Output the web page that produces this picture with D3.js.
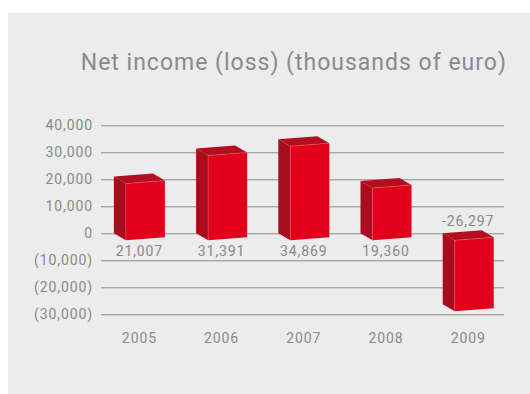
<!DOCTYPE html>
<html>
<head>
<meta charset="utf-8">
<script src="https://cdn.jsdelivr.net/npm/d3@7"></script>
<style>
  body { margin: 0; background: #fff; }
  text { font-family: Roboto, "Liberation Sans", sans-serif; fill: #8a8a8a; }
</style>
</head>
<body>
<svg id="chart"></svg>
<script>
// Chart data
var years = ["2005", "2006", "2007", "2008", "2009"];
var values = [21007, 31391, 34869, 19360, -26297];
var tickValues = [40000, 30000, 20000, 10000, 0, -10000, -20000, -30000];

var width = 530, height = 394;

var svg = d3.select("#chart")
  .attr("width", width)
  .attr("height", height);

// grey panel
svg.append("rect")
  .attr("x", 8).attr("y", 13)
  .attr("width", width - 8).attr("height", height - 13)
  .attr("fill", "#ebeceb");

// title
svg.append("text")
  .attr("x", 507).attr("y", 70)
  .attr("text-anchor", "end")
  .style("font-size", "23px")
  .style("letter-spacing", "1px")
  .text("Net income (loss) (thousands of euro)");

var y = d3.scaleLinear()
  .domain([-30000, 40000])
  .range([314.3, 125.3]);

var x = d3.scalePoint()
  .domain(years)
  .range([139.4, 468.2]);

function tickFormat(d) {
  var s = d3.format(",")(Math.abs(d));
  return d < 0 ? "(" + s + ")" : s;
}

// gridlines + labels
var yAxis = d3.axisLeft(y)
  .tickValues(tickValues)
  .tickFormat(tickFormat)
  .tickSize(-403)
  .tickPadding(8);

var gAxis = svg.append("g")
  .attr("transform", "translate(101,0)")
  .call(yAxis);
gAxis.select(".domain").remove();
gAxis.selectAll(".tick line").attr("stroke", "#8c8c8c").attr("stroke-width", 1);
gAxis.selectAll(".tick text")
  .attr("fill", "#8a8a8a")
  .style("font-size", "14px")
  .style("letter-spacing", "0.9px")
  .attr("font-family", null);

// 3D bars
var w = 39, dx = 12, dy = 7, tilt = 3;

function proj(xb, px, py, z) {
  // px relative to bar's left, z 0 = back, 1 = front
  return [xb + px + dx * z, py + dy * z - tilt * px / w];
}

function poly(pts) {
  return pts.map(function(p) { return p.join(","); }).join(" ");
}

var bars = svg.append("g").selectAll("g")
  .data(years.map(function(d, i) { return {year: d, value: values[i]}; }))
  .enter().append("g");

bars.each(function(d) {
  var g = d3.select(this);
  var xb = x(d.year) - (w + dx) / 2;
  var yTop = y(Math.max(0, d.value)), yBot = y(Math.min(0, d.value));
  // side (left)
  g.append("polygon")
    .attr("points", poly([proj(xb, 0, yTop, 0), proj(xb, 0, yTop, 1), proj(xb, 0, yBot, 1), proj(xb, 0, yBot, 0)]))
    .attr("fill", "#a90c1c");
  // top
  g.append("polygon")
    .attr("points", poly([proj(xb, 0, yTop, 0), proj(xb, w, yTop, 0), proj(xb, w, yTop, 1), proj(xb, 0, yTop, 1)]))
    .attr("fill", "#b10f1f");
  // front
  g.append("polygon")
    .attr("points", poly([proj(xb, 0, yTop, 1), proj(xb, w, yTop, 1), proj(xb, w, yBot, 1), proj(xb, 0, yBot, 1)]))
    .attr("fill", "#e2001a");
  // light edges
  g.append("polyline")
    .attr("points", poly([proj(xb, 0, yBot, 1), proj(xb, 0, yTop, 1), proj(xb, w, yTop, 1)]))
    .attr("fill", "none")
    .attr("stroke", "#f06070")
    .attr("stroke-opacity", 0.6)
    .attr("stroke-width", 0.8);
});

// value labels
svg.append("g").selectAll("text")
  .data(values)
  .enter().append("text")
  .attr("x", function(d, i) { return x(years[i]); })
  .attr("y", function(d) { return d >= 0 ? y(0) + 23 : y(0) - 7; })
  .attr("text-anchor", "middle")
  .style("font-size", "14px")
  .style("letter-spacing", "0.9px")
  .text(function(d) { return d3.format(",")(d).replace("−", "-"); });

// year labels
svg.append("g").selectAll("text")
  .data(years)
  .enter().append("text")
  .attr("x", function(d) { return x(d); })
  .attr("y", 343)
  .attr("text-anchor", "middle")
  .style("font-size", "14px")
  .style("letter-spacing", "0.9px")
  .text(function(d) { return d; });
</script>
</body>
</html>
